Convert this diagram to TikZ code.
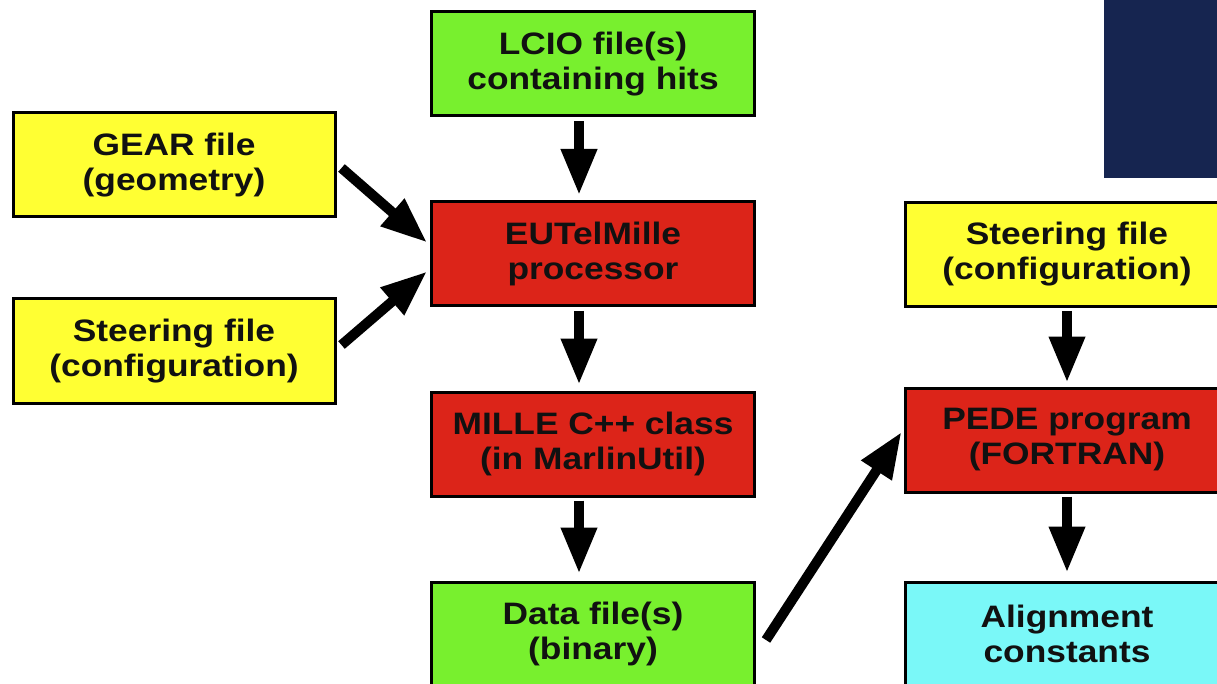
\documentclass[tikz,border=0pt]{standalone}
\usepackage{fontspec}
\setmainfont[FakeStretch=1.14]{Liberation Sans}
\usetikzlibrary{arrows.meta,calc}
\definecolor{boxgreen}{HTML}{78F02E}
\definecolor{boxyellow}{HTML}{FFFF33}
\definecolor{boxred}{HTML}{DC2419}
\definecolor{boxcyan}{HTML}{7AF8F8}
\definecolor{navy}{HTML}{162550}
\definecolor{ink}{HTML}{111111}
\begin{document}
\begin{tikzpicture}[x=1pt,y=-1pt,
  box/.style={draw=black, line width=3pt, minimum width=323pt, minimum height=104pt,
    inner sep=0pt, align=center, text=ink,
    font=\fontsize{31}{35}\selectfont\bfseries},
  arr/.style={line width=10pt, -{Triangle[width=34pt,length=46pt]}}]
\useasboundingbox (0,0) rectangle (1217,684);
\clip (0,0) rectangle (1217,684);
\fill[white] (0,0) rectangle (1217,684);
\fill[navy] (1104,0) rectangle (1217,178);
\node[box, fill=boxgreen]  (lcio)   at (593,64)    {LCIO file(s)\\containing hits};
\node[box, fill=boxyellow, minimum width=322pt] (gear) at (174,165) {GEAR file\\(geometry)};
\node[box, fill=boxred]    (eu)     at (593,253.5) {EUTelMille\\processor};
\node[box, fill=boxyellow, minimum width=322pt] (steerL) at (174,351) {Steering file\\(configuration)};
\node[box, fill=boxred]    (mille)  at (593,444)   {MILLE C++ class\\(in MarlinUtil)};
\node[box, fill=boxgreen]  (data)   at (593,634)   {Data file(s)\\(binary)};
\node[box, fill=boxyellow, minimum width=324pt] (steerR) at (1067,254.5) {Steering file\\(configuration)};
\node[box, fill=boxred, minimum width=324pt]    (pede)   at (1067,440)   {PEDE program\\(FORTRAN)};
\node[box, fill=boxcyan, minimum width=324pt]   (align)  at (1067,634)   {Alignment\\constants};
\draw[arr] ([xshift=-14pt,yshift=-4pt]lcio.south) -- ([xshift=-14pt,yshift=5pt]eu.north);
\draw[arr] ([xshift=-14pt,yshift=-4pt]eu.south) -- ([xshift=-14pt,yshift=6pt]mille.north);
\draw[arr] ([xshift=-14pt,yshift=-3pt]mille.south) -- ([xshift=-14pt,yshift=7pt]data.north);
\draw[arr] ([yshift=-3pt]steerR.south) -- ([yshift=4pt]pede.north);
\draw[arr] ([yshift=-3pt]pede.south) -- ([yshift=8pt]align.north);
\draw[arr] ([xshift=5pt,yshift=-3pt]gear.east) -- ([xshift=-3pt,yshift=11pt]eu.west);
\draw[arr] ([xshift=5pt,yshift=6pt]steerL.east) -- ([xshift=-3pt,yshift=-18pt]eu.west);
\draw[arr] ([xshift=10pt,yshift=-6pt]data.east) -- ([xshift=-2pt,yshift=8pt]pede.west);
\end{tikzpicture}
\end{document}
